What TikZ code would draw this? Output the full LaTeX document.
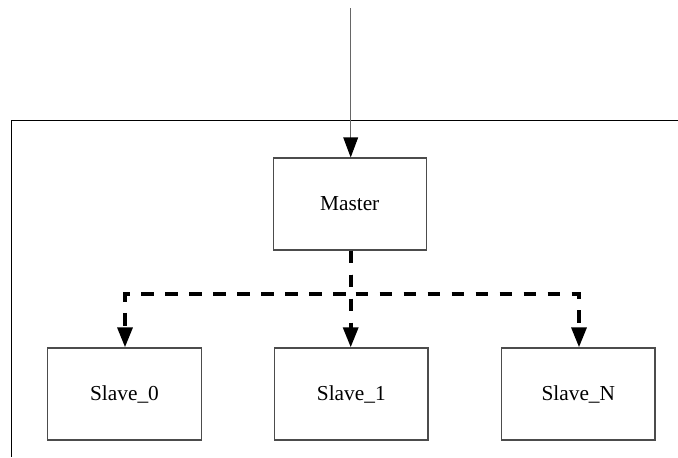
\documentclass[tikz,border=0pt]{standalone}
\usepackage{fontspec}
\setmainfont{Liberation Serif}
\usetikzlibrary{arrows.meta}
\begin{document}
\begin{tikzpicture}[x=0.75pt,y=-0.75pt,
  box/.style={draw=black!70, line width=0.8pt, minimum width=115pt, minimum height=69pt, inner sep=0pt, font=\fontsize{16}{19}\selectfont},
  busline/.style={line width=3pt, dash pattern=on 9.5pt off 8.5pt, -{Triangle[length=15pt,width=11pt]}},
  frameline/.style={line width=1.1pt, black}]
\useasboundingbox (0,0) rectangle (678,457);
\node[box] (master) at (349.7,204) {Master};
\node[box] (s0) at (124.5,394) {Slave\_0};
\node[box] (s1) at (351.3,394) {Slave\_1};
\node[box] (sn) at (578.3,394) {Slave\_N};
\coordinate (in) at (350.7,8);
\coordinate (fr) at (678,120.7);
\coordinate (fc) at (11.7,120.7);
\coordinate (fb) at (11.7,457);
\coordinate (bus) at (350.7,293.5);
\draw[frameline] (fr) -- (fc) -- (fb);
\draw[black!60, line width=0.8pt, -{Triangle[length=15pt,width=11pt,color=black,fill=black]}] (in) -- (in |- master.north);
\draw[busline] (in |- master.south) -- (bus) -| (s0.north -| 125,0);
\draw[busline] (in |- master.south) -- (s1.north -| in);
\draw[busline] (in |- master.south) -- (bus) -| (sn.north -| 579,0);
\end{tikzpicture}
\end{document}
